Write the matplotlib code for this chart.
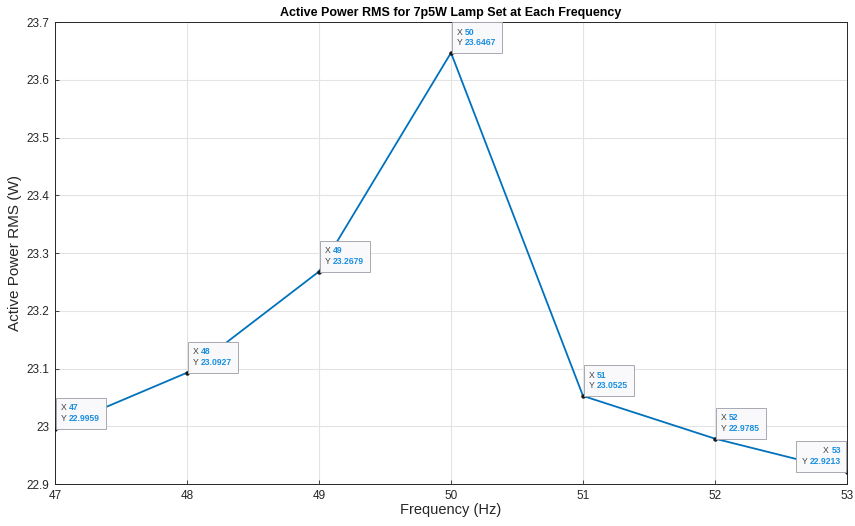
import matplotlib
matplotlib.use("Agg")
import matplotlib.pyplot as plt
from matplotlib.offsetbox import TextArea, HPacker, VPacker, AnnotationBbox
from matplotlib.ticker import FormatStrFormatter

plt.rcParams['font.family'] = ['Liberation Sans', 'DejaVu Sans']

# data
freq = [47, 48, 49, 50, 51, 52, 53]
power = [22.9959, 23.0927, 23.2679, 23.6467, 23.0525, 22.9785, 22.9213]
tip_labels = ['22.9959', '23.0927', '23.2679', '23.6467', '23.0525', '22.9785', '22.9213']

fig = plt.figure(figsize=(8.55, 5.26), dpi=100)
# axes box: x 55..847, y 22..484 px
ax = fig.add_axes([55 / 855, 42 / 526, 792 / 855, 462 / 526])

ax.plot(freq, power, color='#0072BD', lw=1.3, zorder=3)
ax.plot(freq, power, ls='none', marker='o', ms=2.2, color='#1a1a1a', zorder=4)

ax.set_xlim(47, 53)
ax.set_ylim(22.9, 23.7)
ax.set_xticks(range(47, 54))
ax.set_yticks([22.9 + 0.1 * i for i in range(9)])
ax.yaxis.set_major_formatter(FormatStrFormatter('%g'))
ax.grid(True, color='#e3e3e3', lw=0.8)
ax.set_axisbelow(True)
for s in ax.spines.values():
    s.set_color('#262626')
    s.set_linewidth(0.7)
ax.tick_params(direction='in', length=3, width=0.6, colors='#262626', labelsize=8.5, pad=4)

ax.set_title('Active Power RMS for 7p5W Lamp Set at Each Frequency',
             fontsize=9, fontweight='bold', color='black', pad=4)
ax.set_xlabel('Frequency (Hz)', fontsize=10.5, color='#262626', labelpad=1)
ax.set_ylabel('Active Power RMS (W)', fontsize=11, color='#262626', labelpad=3)

lab_props = dict(color='#404040', fontsize=6.2)
val_props = dict(color='#1a8fe0', fontsize=6.2, fontweight='bold')

for i, (x, y) in enumerate(zip(freq, power)):
    last = i == len(freq) - 1
    rows = []
    for nm, v in (('X ', str(x)), ('Y ', tip_labels[i])):
        rows.append(HPacker(children=[TextArea(nm, textprops=lab_props),
                                      TextArea(v, textprops=val_props)],
                            pad=0, sep=0))
    box = VPacker(children=rows, pad=0, sep=1.2, align='right' if last else 'left')
    ab = AnnotationBbox(box, (x, y), xybox=(-4.4 if last else 4.4, 4.0),
                        boxcoords='offset points',
                        box_alignment=(1, 0) if last else (0, 0),
                        frameon=True, annotation_clip=False,
                        bboxprops=dict(boxstyle='square,pad=0.4', fc='#f9f9fc',
                                       ec='#a8a8b0', lw=0.7))
    ab.set_zorder(5)
    ax.add_artist(ab)

fig.savefig('out.png', dpi=100)
